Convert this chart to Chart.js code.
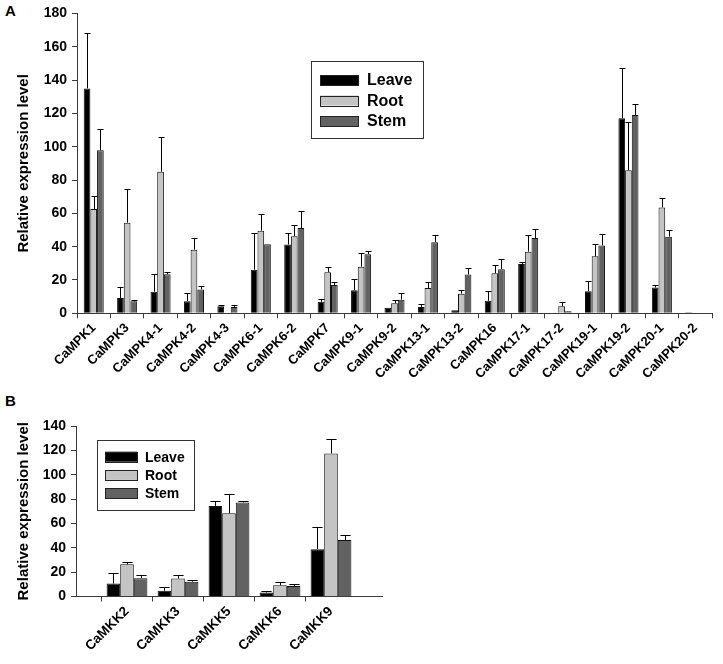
<!DOCTYPE html>
<html>
<head>
<meta charset="utf-8">
<script src="https://cdn.jsdelivr.net/npm/chart.js@4"></script>
<style>
  html, body { margin: 0; padding: 0; background: #fff; }
  body { width: 723px; height: 664px; position: relative; overflow: hidden; font-family: "Liberation Sans", Arial, sans-serif; }
  canvas { position: absolute; left: 0; }
  .panel { position: absolute; left: 5px; font: bold 15px "Liberation Sans", Arial, sans-serif; }
</style>
</head>
<body>
<div class="panel" style="top:2px">A</div>
<canvas id="chartA" width="723" height="385" style="top:0"></canvas>
<div class="panel" style="top:392px">B</div>
<canvas id="chartB" width="400" height="274" style="top:390px"></canvas>
<script>
// Panel A: CaMPK genes
const genesA = ["CaMPK1", "CaMPK3", "CaMPK4-1", "CaMPK4-2", "CaMPK4-3", "CaMPK6-1", "CaMPK6-2",
  "CaMPK7", "CaMPK9-1", "CaMPK9-2", "CaMPK13-1", "CaMPK13-2", "CaMPK16", "CaMPK17-1",
  "CaMPK17-2", "CaMPK19-1", "CaMPK19-2", "CaMPK20-1", "CaMPK20-2"];
const leaveA = [135, 9.2, 13, 7.3, 4.2, 26.2, 41.3, 6.9, 13.8, 3.4, 3.8, 1.8, 7.5, 29.6, 0.4, 13.3, 117, 15.5, 0.6];
const rootA  = [62.6, 54.4, 85, 38.2, 0.3, 49.6, 46.3, 24.7, 28, 6, 15.2, 11.8, 24, 37, 4.2, 34.2, 85.8, 63.5, 0];
const stemA  = [97.8, 7.2, 23.5, 14.3, 3.8, 41.5, 51.2, 17, 35.5, 8.2, 42.6, 23.3, 26.5, 45.2, 1.2, 40.7, 119, 46, 0];
const leaveErrA = [33, 6.3, 10.7, 4.7, 1, 22, 6.7, 1.8, 6.5, 0, 1.8, 0, 5.8, 1, 0, 6.2, 30.2, 1.2, 0];
const rootErrA  = [8, 20, 20.8, 7, 0, 10.2, 6.7, 2.8, 8.3, 2, 3.8, 2.2, 5.2, 10.2, 2.3, 7.1, 28.8, 5.8, 0];
const stemErrA  = [13, 0.8, 1.3, 2, 1.4, 0, 10, 1.5, 1.7, 3.8, 4.2, 3.7, 6.1, 5.3, 0, 7.1, 6.9, 4, 0];
const ticksA = [0, 20, 40, 60, 80, 100, 120, 140, 160, 180];

// Panel B: CaMKK genes
const genesB = ["CaMKK2", "CaMKK3", "CaMKK5", "CaMKK6", "CaMKK9"];
const leaveB = [10.6, 4.7, 74.4, 3.3, 38.9];
const rootB  = [26.4, 14.7, 68.3, 9.2, 117.5];
const stemB  = [15, 12.2, 77.2, 8.6, 46.4];
const leaveErrB = [8.8, 2.8, 4.2, 1.4, 18.3];
const rootErrB  = [1.9, 3.1, 16, 2.7, 11.5];
const stemErrB  = [2.5, 1.1, 1.1, 2, 4.2];
const ticksB = [0, 20, 40, 60, 80, 100, 120, 140];

const FONT = '"Liberation Sans", Arial, sans-serif';
const AXIS = "#3a3a3a";
const colors = { leave: "#000000", root: "#c4c4c4", stem: "#626262" };

// error bars drawn above each bar, using the bar elements and the y scale
const errorBars = {
  id: "errorBars",
  afterDatasetsDraw(chart, args, opts) {
    const { ctx } = chart;
    const y = chart.scales.y;
    ctx.save();
    ctx.strokeStyle = "#000";
    ctx.lineWidth = 1;
    chart.data.datasets.forEach((ds, i) => {
      chart.getDatasetMeta(i).data.forEach((bar, j) => {
        const v = ds.data[j], e = ds.errors[j];
        if (v == null || !e) return;
        const top = Math.round(y.getPixelForValue(v + e)) + 0.5;
        const x = Math.round(bar.x) + 0.5;
        const half = bar.width * opts.cap / 2;
        ctx.beginPath();
        ctx.moveTo(x, bar.y);
        ctx.lineTo(x, top);
        ctx.moveTo(x - half, top);
        ctx.lineTo(x + half, top);
        ctx.stroke();
      });
    });
    ctx.restore();
  }
};

// boxed legend inside the plot
const boxLegend = {
  id: "boxLegend",
  afterDraw(chart, args, o) {
    const { ctx } = chart;
    ctx.save();
    ctx.lineWidth = 1;
    ctx.strokeStyle = "#333";
    ctx.strokeRect(o.x + 0.5, o.y + 0.5, o.w, o.h);
    ctx.font = o.font;
    ctx.textBaseline = "middle";
    chart.data.datasets.forEach((ds, i) => {
      const cy = o.row0 + i * o.gap;
      ctx.fillStyle = ds.backgroundColor;
      ctx.fillRect(o.sx, cy - o.sh / 2, o.sw, o.sh);
      ctx.strokeStyle = "#222";
      ctx.strokeRect(o.sx + 0.5, Math.round(cy - o.sh / 2) + 0.5, o.sw, o.sh);
      ctx.fillStyle = "#000";
      ctx.fillText(ds.label, o.tx, cy + 1);
    });
    ctx.restore();
  }
};

function datasets(leave, root, stem, eL, eR, eS, pct) {
  const base = { borderColor: "#111", borderWidth: 1, barPercentage: 1, categoryPercentage: pct };
  return [
    { ...base, label: "Leave", data: leave, errors: eL, backgroundColor: colors.leave },
    { ...base, label: "Root", data: root, errors: eR, backgroundColor: colors.root },
    { ...base, label: "Stem", data: stem, errors: eS, backgroundColor: colors.stem }
  ];
}

function yScale(max, tickVals, width) {
  return {
    min: 0, max: max,
    afterBuildTicks: s => { s.ticks = tickVals.map(v => ({ value: v })); },
    afterFit: s => { s.width = width; },
    ticks: { color: "#000", padding: 5, font: { family: FONT, size: 14, weight: "bold" } },
    grid: { drawOnChartArea: false, tickLength: 5, color: AXIS },
    border: { color: AXIS },
    title: {
      display: true, text: "Relative expression level", color: "#000",
      font: { family: FONT, size: 15, weight: "bold" }, padding: { top: 15, bottom: 0 }
    }
  };
}

function xScale(height, size, offset) {
  return {
    offset: offset,
    afterFit: s => { s.height = height; },
    ticks: {
      color: "#000", autoSkip: false, maxRotation: 45, minRotation: 45, padding: 2,
      font: { family: FONT, size: size, weight: "bold" }
    },
    grid: {
      drawOnChartArea: false, tickLength: 5,
      color: ctx => (ctx.tick && ctx.tick.label === "" ? "rgba(0,0,0,0)" : AXIS)
    },
    border: { color: AXIS }
  };
}

new Chart(document.getElementById("chartA"), {
  type: "bar",
  data: { labels: genesA, datasets: datasets(leaveA, rootA, stemA, leaveErrA, rootErrA, stemErrA, 0.6) },
  options: {
    responsive: false, animation: false,
    layout: { padding: { top: 10, right: 11, left: 0, bottom: 0 } },
    scales: { x: xScale(71.7, 13, true), y: yScale(180, ticksA, 77) },
    plugins: {
      legend: { display: false }, tooltip: { enabled: false },
      errorBars: { cap: 0.9 },
      boxLegend: { x: 311, y: 61, w: 112, h: 77, sx: 320, sw: 38, sh: 10, row0: 80, gap: 20.5, tx: 367,
        font: "bold 16px " + FONT }
    }
  },
  plugins: [errorBars, boxLegend]
});

// empty slot on each side of panel B, as in the original axis
const pad = arr => [null, ...arr, null];
new Chart(document.getElementById("chartB"), {
  type: "bar",
  data: {
    labels: ["", ...genesB, ""],
    datasets: datasets(pad(leaveB), pad(rootB), pad(stemB), pad(leaveErrB), pad(rootErrB), pad(stemErrB), 0.8)
  },
  options: {
    responsive: false, animation: false,
    layout: { padding: { top: 36, right: 18, left: 0, bottom: 0 } },
    scales: { x: xScale(67.5, 13.5, false), y: yScale(140, ticksB, 76) },
    plugins: {
      legend: { display: false }, tooltip: { enabled: false },
      errorBars: { cap: 0.75 },
      boxLegend: { x: 97, y: 50, w: 97, h: 70, sx: 105, sw: 32, sh: 10, row0: 66.7, gap: 18.2, tx: 145,
        font: "bold 14px " + FONT }
    }
  },
  plugins: [errorBars, boxLegend]
});
</script>
</body>
</html>
